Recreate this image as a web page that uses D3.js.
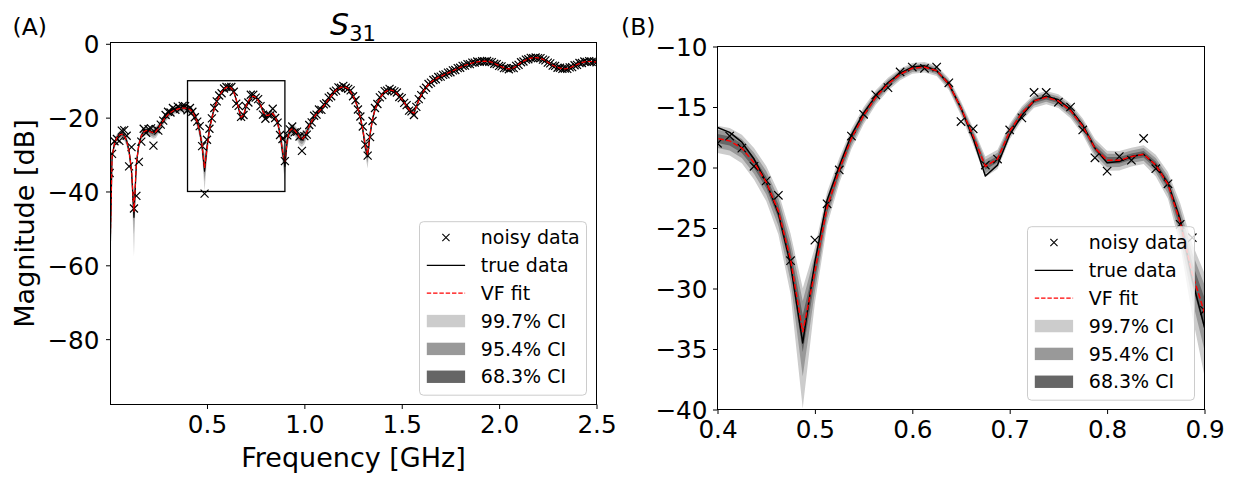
<!DOCTYPE html>
<html><head><meta charset="utf-8">
<script src="https://cdn.jsdelivr.net/npm/d3@7"></script>
<style>
body{margin:0;background:#fff}
svg{display:block}
text{font-family:"DejaVu Sans",sans-serif;fill:#000}
</style></head>
<body><svg id="c" width="1234" height="477"></svg>
<script>
// ---------- DATA ----------
const freqGHz = [
0,0.0125,0.025,0.0375,0.05,0.0625,0.075,0.0875,
0.1,0.1125,0.125,0.1375,0.15,0.1625,0.175,0.1875,
0.2,0.2125,0.225,0.2375,0.25,0.2625,0.275,0.2875,
0.3,0.3125,0.325,0.3375,0.35,0.3625,0.375,0.3875,
0.4,0.4125,0.425,0.4375,0.45,0.4625,0.475,0.4875,
0.5,0.5125,0.525,0.5375,0.55,0.5625,0.575,0.5875,
0.6,0.6125,0.625,0.6375,0.65,0.6625,0.675,0.6875,
0.7,0.7125,0.725,0.7375,0.75,0.7625,0.775,0.7875,
0.8,0.8125,0.825,0.8375,0.85,0.8625,0.875,0.8875,
0.9,0.9125,0.925,0.9375,0.95,0.9625,0.975,0.9875,
1.0,1.0125,1.025,1.0375,1.05,1.0625,1.075,1.0875,
1.1,1.1125,1.125,1.1375,1.15,1.1625,1.175,1.1875,
1.2,1.2125,1.225,1.2375,1.25,1.2625,1.275,1.2875,
1.3,1.3125,1.325,1.3375,1.35,1.3625,1.375,1.3875,
1.4,1.4125,1.425,1.4375,1.45,1.4625,1.475,1.4875,
1.5,1.5125,1.525,1.5375,1.55,1.5625,1.575,1.5875,
1.6,1.6125,1.625,1.6375,1.65,1.6625,1.675,1.6875,
1.7,1.7125,1.725,1.7375,1.75,1.7625,1.775,1.7875,
1.8,1.8125,1.825,1.8375,1.85,1.8625,1.875,1.8875,
1.9,1.9125,1.925,1.9375,1.95,1.9625,1.975,1.9875,
2.0,2.0125,2.025,2.0375,2.05,2.0625,2.075,2.0875,
2.1,2.1125,2.125,2.1375,2.15,2.1625,2.175,2.1875,
2.2,2.2125,2.225,2.2375,2.25,2.2625,2.275,2.2875,
2.3,2.3125,2.325,2.3375,2.35,2.3625,2.375,2.3875,
2.4,2.4125,2.425,2.4375,2.45,2.4625,2.475,2.4875,
2.5];

const trueDb = [
-65,-30.5,-27.0,-25.3,-24.6,-24.4,-24.8,-26.2,-29.0,-34.5,
-47.0,-32.5,-27.3,-24.9,-23.7,-23.3,-23.4,-23.8,-24.0,-23.6,
-22.6,-21.5,-20.5,-19.6,-18.8,-18.2,-17.8,-17.4,-17.1,-16.8,
-16.6,-16.5,-16.7,-17.1,-17.9,-19.3,-21.2,-23.8,-28.0,-34.5,
-27.8,-22.7,-19.9,-17.3,-15.5,-14.1,-13.0,-12.2,-11.7,-11.6,
-12.0,-13.1,-15.1,-17.6,-20.7,-19.8,-17.3,-15.7,-14.5,-14.1,
-14.4,-15.2,-16.5,-18.4,-19.6,-19.5,-19.1,-18.9,-19.8,-21.3,
-24.3,-29.3,-33.2,-26.0,-23.5,-22.9,-23.3,-24.3,-25.5,-26.0,
-25.3,-23.9,-22.3,-20.9,-19.8,-18.9,-18.2,-17.5,-16.7,-15.8,
-14.9,-14.0,-13.2,-12.5,-12.0,-11.7,-11.6,-11.7,-12.1,-12.9,
-14.0,-15.5,-17.4,-20.0,-23.3,-28.0,-30.6,-24.5,-20.4,-17.8,
-16.0,-14.7,-13.7,-13.0,-12.6,-12.4,-12.5,-12.8,-13.4,-14.1,
-14.9,-15.8,-16.8,-17.8,-18.4,-18.9,-16.9,-15.2,-13.8,-12.7,
-11.8,-11.0,-10.4,-9.9,-9.5,-9.1,-8.8,-8.5,-8.2,-7.9,
-7.6,-7.3,-7.0,-6.7,-6.4,-6.1,-5.8,-5.6,-5.4,-5.2,
-5.0,-4.9,-4.8,-4.75,-4.7,-4.75,-4.85,-5.0,-5.3,-5.6,
-5.9,-6.2,-6.5,-6.7,-6.8,-6.7,-6.5,-6.1,-5.6,-5.1,
-4.7,-4.4,-4.1,-3.9,-3.8,-3.75,-3.8,-3.95,-4.2,-4.6,
-5.0,-5.4,-5.8,-6.1,-6.4,-6.6,-6.7,-6.8,-6.7,-6.5,
-6.2,-5.9,-5.6,-5.3,-5.1,-4.9,-4.8,-4.8,-4.8,-4.9,
-4.9];

const fitDb = [
-62.0,-30.8,-27.1,-25.4,-24.7,-24.5,-24.9,-26.3,-29.2,-34.2,
-45.5,-32.2,-27.4,-25.0,-23.9,-23.5,-23.6,-23.9,-24.1,-23.8,
-22.9,-21.8,-20.8,-19.9,-19.2,-18.6,-18.2,-17.9,-17.7,-17.5,
-17.4,-17.4,-17.6,-17.8,-18.4,-19.6,-21.2,-23.6,-27.6,-33.6,
-28.6,-23.3,-20.2,-17.6,-15.7,-14.2,-13.1,-12.3,-11.8,-11.7,
-12.0,-13.1,-15.1,-17.4,-19.9,-19.3,-17.0,-15.5,-14.5,-14.2,
-14.5,-15.3,-16.6,-18.4,-19.4,-19.4,-19.1,-18.9,-19.8,-21.4,
-24.5,-28.8,-32.0,-25.8,-23.5,-23.0,-23.4,-24.3,-25.4,-25.8,
-25.2,-23.9,-22.3,-21.0,-19.9,-19.0,-18.3,-17.6,-16.8,-15.9,
-15.0,-14.1,-13.3,-12.6,-12.1,-11.8,-11.7,-11.8,-12.2,-13.0,
-14.1,-15.6,-17.5,-20.0,-23.2,-27.5,-30.0,-24.4,-20.4,-17.9,
-16.1,-14.8,-13.8,-13.1,-12.7,-12.5,-12.6,-12.9,-13.5,-14.2,
-15.0,-15.9,-16.9,-17.8,-18.4,-18.8,-17.0,-15.3,-13.9,-12.8,
-11.8,-11.0,-10.4,-9.9,-9.5,-9.1,-8.8,-8.5,-8.2,-7.9,
-7.6,-7.3,-7.0,-6.7,-6.4,-6.1,-5.8,-5.6,-5.4,-5.2,
-5.0,-4.9,-4.8,-4.75,-4.7,-4.75,-4.85,-5.0,-5.3,-5.6,
-5.9,-6.2,-6.5,-6.7,-6.8,-6.7,-6.5,-6.1,-5.6,-5.1,
-4.7,-4.4,-4.1,-3.9,-3.8,-3.75,-3.8,-3.95,-4.2,-4.6,
-5.0,-5.4,-5.8,-6.1,-6.4,-6.6,-6.7,-6.8,-6.7,-6.5,
-6.2,-5.9,-5.6,-5.3,-5.1,-4.9,-4.8,-4.8,-4.8,-4.9,
-4.9];

const noisyDb = [
-35.0,-29.8,-26.4,-25.8,-26.3,-23.5,-23.4,-24.9,-33.2,-28.0,
-44.6,-41.2,-32.0,-26.5,-23.0,-24.1,-23.1,-22.9,-27.6,-23.1,
-23.5,-21.9,-20.8,-19.3,-18.4,-18.6,-17.4,-17.9,-17.0,-17.6,
-16.8,-16.9,-18.0,-17.4,-18.4,-19.9,-21.1,-22.3,-27.7,-40.6,
-26.0,-23.0,-20.2,-17.4,-15.6,-14.0,-13.4,-12.1,-11.7,-11.8,
-11.7,-13.0,-16.2,-16.8,-19.8,-19.3,-16.9,-15.9,-13.8,-13.8,
-14.6,-15.0,-16.9,-19.2,-20.3,-19.1,-19.4,-17.6,-20.1,-21.35,
-24.7,-25.8,-31.8,-24.8,-23.2,-22.4,-24.0,-23.8,-25.1,-29.0,
-25.0,-24.6,-22.0,-21.3,-19.5,-19.2,-17.8,-17.9,-16.4,-16.1,
-14.6,-14.2,-13.0,-12.7,-11.8,-11.9,-11.4,-11.9,-12.2,-12.6,
-14.2,-15.3,-17.8,-19.7,-22.4,-27.3,-30.3,-25.3,-20.9,-17.4,
-16.3,-14.5,-13.9,-12.8,-12.7,-12.2,-12.6,-12.9,-13.2,-14.4,
-14.7,-16.0,-16.6,-18.1,-18.3,-19.3,-17.1,-15.0,-13.9,-12.5,
-11.9,-10.9,-10.5,-9.8,-9.6,-9.0,-8.9,-8.4,-8.3,-7.8,
-7.7,-7.2,-7.1,-6.6,-6.5,-6.0,-5.9,-5.5,-5.5,-5.1,
-5.1,-4.8,-4.9,-4.7,-4.8,-4.65,-4.9,-4.95,-5.4,-5.5,
-6.0,-6.1,-6.6,-6.6,-6.9,-6.6,-6.6,-6.0,-5.7,-5.0,
-4.8,-4.3,-4.2,-3.8,-3.9,-3.7,-3.9,-3.9,-4.3,-4.5,
-5.1,-5.3,-5.9,-6.0,-6.5,-6.5,-6.8,-6.7,-6.8,-6.4,
-6.3,-5.8,-5.7,-5.2,-5.2,-4.8,-4.9,-4.7,-4.9,-4.8,
-5.0];

// one-sigma uncertainty of the fitted |S31| (linear magnitude, x1e-3)
const ciSigmaMilli = [
0.25,1.5,2.0,2.3,2.5,2.6,2.6,2.5,2.2,1.8,
1.33,1.8,2.2,2.5,2.8,3.0,3.2,3.4,3.6,3.8,
4.0,4.2,4.4,4.5,4.6,4.7,4.8,5.0,5.2,5.4,
5.5,5.6,5.7,5.6,5.4,5.2,4.8,4.4,3.9,3.6,
3.2,3.6,3.9,4.2,4.4,4.5,4.6,4.5,4.4,4.3,
4.2,4.1,3.9,3.6,3.3,3.3,3.5,3.8,4.0,4.1,
4.1,4.0,3.8,3.6,3.4,3.3,3.3,3.4,3.5,3.6,
3.9,4.0,3.8,4.2,4.1,4.0,3.9,3.8,3.8,3.8,
3.8,3.9,4.0,4.1,4.2,4.3,4.4,4.5,4.6,4.7,
4.8,4.9,5.0,5.0,5.1,5.1,5.1,5.1,5.0,4.9,
4.8,4.6,4.4,4.2,4.0,3.8,3.7,3.8,4.0,4.2,
4.4,4.6,4.7,4.8,4.8,4.8,4.8,4.7,4.6,4.5,
4.4,4.3,4.2,4.1,4.1,4.1,4.2,4.3,4.4,4.5,
4.6,4.7,4.7,4.8,4.8,4.8,4.9,4.9,4.9,4.9,
5.0,5.0,5.0,5.0,5.0,5.0,5.0,5.0,5.0,5.0,
5.0,5.0,5.0,5.0,5.0,5.0,5.0,5.0,5.0,5.0,
4.9,4.9,4.9,4.9,4.9,4.9,4.9,4.9,4.9,4.9,
5.0,5.0,5.0,5.0,5.0,5.0,5.0,5.0,5.0,5.0,
4.9,4.9,4.9,4.9,4.9,4.9,4.9,4.9,4.9,4.9,
5.0,5.0,5.0,5.0,5.0,5.0,5.0,5.0,5.0,5.0,
5.0];

const ciLabels = ["99.7% CI","95.4% CI","68.3% CI"];
const ciSigmaMultiple = [3,2,1];
const ciColors = ["#cccccc","#999999","#666666"];
const legendLabels = ["noisy data","true data","VF fit"];
const xTicksA = [0.5,1.0,1.5,2.0,2.5];
const yTicksA = [0,-20,-40,-60,-80];
const xTicksB = [0.4,0.5,0.6,0.7,0.8,0.9];
const yTicksB = [-10,-15,-20,-25,-30,-35,-40];
const zoomBox = {f0:0.4, f1:0.9, db0:-40, db1:-10};

// ---------- DRAWING ----------
const svg = d3.select("#c");
const defs = svg.append("defs");
const minus = s => String(s).replace(/-/g, "\u2212");
const idx = d3.range(freqGHz.length);
const mag = j => Math.pow(10, fitDb[j] / 20);
const sig = j => ciSigmaMilli[j] / 1000;

function panel(cfg) {
  const g = svg.append("g");
  const x = d3.scaleLinear().domain(cfg.xDomain).range(cfg.xRange);
  const y = d3.scaleLinear().domain(cfg.yDomain).range(cfg.yRange);
  const clipId = cfg.id + "-clip";
  defs.append("clipPath").attr("id", clipId).append("rect")
    .attr("x", cfg.xRange[0]).attr("y", cfg.yRange[1])
    .attr("width", cfg.xRange[1] - cfg.xRange[0])
    .attr("height", cfg.yRange[0] - cfg.yRange[1]);
  const plot = g.append("g").attr("clip-path", `url(#${clipId})`);

  // confidence bands
  ciSigmaMultiple.forEach((k, i) => {
    const area = d3.area()
      .x(j => x(freqGHz[j]))
      .y0(j => y(Math.max(-150, 20 * Math.log10(Math.max(mag(j) - k * sig(j), 1e-8)))))
      .y1(j => y(20 * Math.log10(mag(j) + k * sig(j))));
    plot.append("path").attr("d", area(idx)).attr("fill", ciColors[i]).attr("stroke", "none");
  });

  // noisy data
  const s = cfg.markerHalf;
  plot.append("g").selectAll("path").data(idx).join("path")
    .attr("transform", j => `translate(${x(freqGHz[j])},${y(noisyDb[j])})`)
    .attr("d", `M${-s},${-s}L${s},${s}M${-s},${s}L${s},${-s}`)
    .attr("stroke", "#000").attr("stroke-width", cfg.markerW).attr("fill", "none");

  // true data
  plot.append("path").datum(idx)
    .attr("d", d3.line().x(j => x(freqGHz[j])).y(j => y(trueDb[j])))
    .attr("fill", "none").attr("stroke", "#000").attr("stroke-width", cfg.lineW)
    .attr("stroke-linejoin", "round");
  // VF fit
  plot.append("path").datum(idx)
    .attr("d", d3.line().x(j => x(freqGHz[j])).y(j => y(fitDb[j])))
    .attr("fill", "none").attr("stroke", "#ff0000").attr("stroke-width", cfg.lineW)
    .attr("stroke-dasharray", cfg.dash);

  if (cfg.box) {
    g.append("rect")
      .attr("x", x(zoomBox.f0)).attr("y", y(zoomBox.db1))
      .attr("width", x(zoomBox.f1) - x(zoomBox.f0))
      .attr("height", y(zoomBox.db0) - y(zoomBox.db1))
      .attr("fill", "none").attr("stroke", "#000").attr("stroke-width", 1.3);
  }

  // axes
  const xa = g.append("g").attr("transform", `translate(0,${cfg.yRange[0]})`)
    .call(d3.axisBottom(x).tickValues(cfg.xTicks).tickSize(4.5).tickPadding(6.5)
      .tickFormat(d3.format(".1f")));
  xa.select(".domain").remove();
  xa.selectAll("line").attr("stroke", "#000").attr("stroke-width", 1);
  xa.selectAll("text").attr("font-size", 24.7).attr("fill", "#000");

  const ya = g.append("g").attr("transform", `translate(${cfg.xRange[0]},0)`)
    .call(d3.axisLeft(y).tickValues(cfg.yTicks).tickSize(4.5).tickPadding(cfg.yPad)
      .tickFormat(d => minus(d)));
  ya.select(".domain").remove();
  ya.selectAll("line").attr("stroke", "#000").attr("stroke-width", 1);
  ya.selectAll("text").attr("font-size", 24.7).attr("fill", "#000").attr("dy", "0.36em");

  // frame
  g.append("rect")
    .attr("x", cfg.xRange[0]).attr("y", cfg.yRange[1])
    .attr("width", cfg.xRange[1] - cfg.xRange[0])
    .attr("height", cfg.yRange[0] - cfg.yRange[1])
    .attr("fill", "none").attr("stroke", "#000").attr("stroke-width", 1);

  legend(cfg.legend[0], cfg.legend[1]);
}

function legend(lx, ly) {
  const lg = svg.append("g");
  lg.append("rect").attr("x", lx).attr("y", ly).attr("width", 167).attr("height", 173.5)
    .attr("rx", 4).attr("fill", "#fff").attr("fill-opacity", 0.8)
    .attr("stroke", "#cccccc").attr("stroke-width", 1);
  const labels = legendLabels.concat(ciLabels);
  const hx0 = lx + 7.3, hx1 = lx + 45.6, tx = lx + 61.3;
  labels.forEach((lab, i) => {
    const cy = ly + 15.8 + i * 27.85;
    if (i === 0) {
      const cx = (hx0 + hx1) / 2, s = 3.6;
      lg.append("path").attr("d", `M${cx - s},${cy - s}L${cx + s},${cy + s}M${cx - s},${cy + s}L${cx + s},${cy - s}`)
        .attr("stroke", "#000").attr("stroke-width", 1.1);
    } else if (i === 1) {
      lg.append("line").attr("x1", hx0).attr("x2", hx1).attr("y1", cy).attr("y2", cy)
        .attr("stroke", "#000").attr("stroke-width", 1.2);
    } else if (i === 2) {
      lg.append("line").attr("x1", hx0).attr("x2", hx1).attr("y1", cy).attr("y2", cy)
        .attr("stroke", "#ff0000").attr("stroke-width", 1.2).attr("stroke-dasharray", "4.4,1.9");
    } else {
      lg.append("rect").attr("x", hx0).attr("y", cy - 6.2).attr("width", hx1 - hx0).attr("height", 12.4)
        .attr("fill", ciColors[i - 3]);
    }
    lg.append("text").attr("x", tx).attr("y", cy).attr("dy", "0.35em")
      .attr("font-size", 19).text(lab);
  });
}

panel({
  id: "A", xDomain: [0.0045, 2.5], xRange: [110.5, 596.5],
  yDomain: [-97.7, 0.35], yRange: [404.5, 42.5],
  xTicks: xTicksA, yTicks: yTicksA, yPad: 6.5,
  markerHalf: 4, markerW: 1.2, lineW: 1.2, dash: "4.4,1.9", box: true,
  legend: [419.5, 221.7]
});
panel({
  id: "B", xDomain: [0.4, 0.9], xRange: [717.5, 1204.5],
  yDomain: [-40, -10], yRange: [409.5, 46.5],
  xTicks: xTicksB, yTicks: yTicksB, yPad: 5.5,
  markerHalf: 4.2, markerW: 1.2, lineW: 1.5, dash: "5.5,2.4", box: false,
  legend: [1027.5, 226.7]
});

// labels
svg.append("text").attr("x", 12.5).attr("y", 35).attr("font-size", 23.5).text("(A)");
svg.append("text").attr("x", 621).attr("y", 35).attr("font-size", 23.5).text("(B)");
const title = svg.append("text").attr("x", 353).attr("y", 35).attr("text-anchor", "middle");
title.append("tspan").attr("font-size", 30).attr("font-style", "italic").text("S");
title.append("tspan").attr("font-size", 21).attr("dy", 6).text("31");
svg.append("text").attr("x", 353.5).attr("y", 466.5).attr("text-anchor", "middle")
  .attr("font-size", 27).text("Frequency [GHz]");
svg.append("text").attr("transform", "translate(33.5,223.5) rotate(-90)")
  .attr("text-anchor", "middle").attr("font-size", 27).text("Magnitude [dB]");
</script>
</body></html>
